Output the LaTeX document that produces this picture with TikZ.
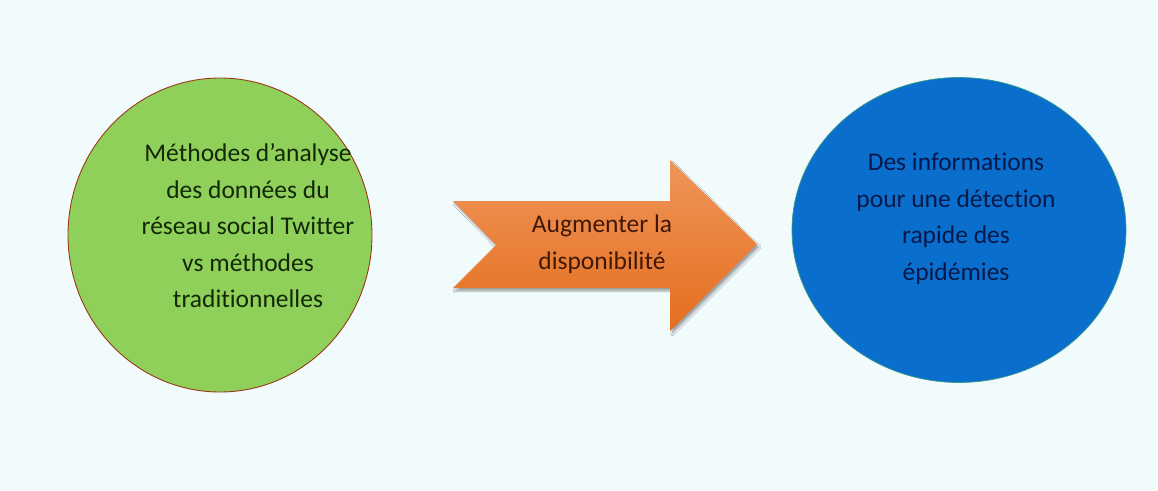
\documentclass[tikz,border=0pt]{standalone}
\usepackage{fontspec}
\setmainfont[Ligatures={NoCommon}]{Carlito}
\usetikzlibrary{shapes.geometric,shadows.blur}
\definecolor{bgc}{HTML}{F2FBFC}
\definecolor{greenfill}{HTML}{8ED05A}
\definecolor{greenline}{HTML}{9A3A1A}
\definecolor{bluefill}{HTML}{0A6FCC}
\definecolor{blueline}{HTML}{3A9A8A}
\definecolor{orangetop}{HTML}{F0955A}
\definecolor{orangebot}{HTML}{E46E1E}
\definecolor{txtgreen}{HTML}{142808}
\definecolor{txtblue}{HTML}{08184A}
\definecolor{txtbrown}{HTML}{401806}
\tikzset{
  bubble/.style={ellipse, inner sep=0pt},
  lbl/.style={align=center, font=\fontsize{25.5}{36.5}\selectfont}
}
\begin{document}
\begin{tikzpicture}[x=1pt,y=-1pt]
\useasboundingbox (0,0) rectangle (1158,490);
\fill[bgc] (0,0) rectangle (1158,490);
% left bubble
\node[bubble, fill=greenfill, draw=greenline, line width=0.9pt,
      minimum width=304pt, minimum height=314pt] (left) at (220,235) {};
\node[lbl, text=txtgreen] (lefttxt) at (248,226)
  {Méthodes d’analyse\\des données du\\réseau social Twitter\\vs méthodes\\traditionnelles};
% right bubble
\node[bubble, fill=bluefill, draw=blueline, line width=0.7pt,
      minimum width=334pt, minimum height=305pt] (right) at (959,230) {};
\node[lbl, text=txtblue] (righttxt) at (956,219)
  {Des informations\\pour une détection\\rapide des\\épidémies};
% arrow
\coordinate (a1) at (453,201);
\coordinate (a2) at (670,201);
\coordinate (a3) at (670,160);
\coordinate (a4) at (757,244);
\coordinate (a5) at (670,331);
\coordinate (a6) at (670,288);
\coordinate (a7) at (453,288);
\coordinate (a8) at (496,245);
\path[top color=orangetop, bottom color=orangebot,
      blur shadow={shadow xshift=2pt, shadow yshift=-3pt, shadow blur steps=6, shadow opacity=35}]
  (a1) -- (a2) -- (a3) -- (a4) -- (a5) -- (a6) -- (a7) -- (a8) -- cycle;
\node[lbl, text=txtbrown] (arrowtxt) at (602,244)
  {Augmenter la\\disponibilité};
\end{tikzpicture}
\end{document}
